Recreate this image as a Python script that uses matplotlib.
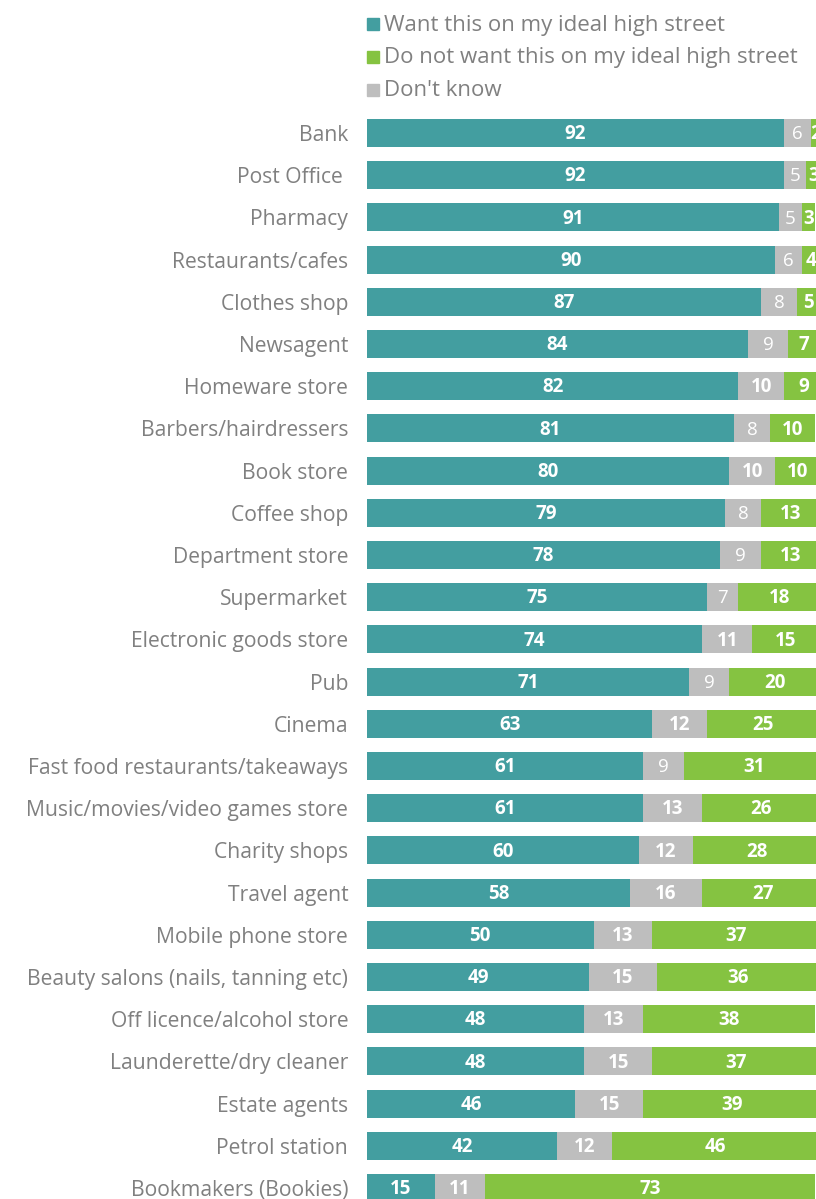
import matplotlib
matplotlib.use("Agg")
import matplotlib.pyplot as plt
from matplotlib.patches import Rectangle

categories = ["Bank", "Post Office ", "Pharmacy", "Restaurants/cafes", "Clothes shop",
              "Newsagent", "Homeware store", "Barbers/hairdressers", "Book store",
              "Coffee shop", "Department store", "Supermarket", "Electronic goods store",
              "Pub", "Cinema", "Fast food restaurants/takeaways",
              "Music/movies/video games store", "Charity shops", "Travel agent",
              "Mobile phone store", "Beauty salons (nails, tanning etc)",
              "Off licence/alcohol store", "Launderette/dry cleaner", "Estate agents",
              "Petrol station", "Bookmakers (Bookies)"]
want = [92, 92, 91, 90, 87, 84, 82, 81, 80, 79, 78, 75, 74, 71, 63, 61, 61, 60, 58, 50, 49, 48, 48, 46, 42, 15]
dont_know = [6, 5, 5, 6, 8, 9, 10, 8, 10, 8, 9, 7, 11, 9, 12, 9, 13, 12, 16, 13, 15, 13, 15, 15, 12, 11]
not_want = [2, 3, 3, 4, 5, 7, 9, 10, 10, 13, 13, 18, 15, 20, 25, 31, 26, 28, 27, 37, 36, 38, 37, 39, 46, 73]
legend_labels = ["Want this on my ideal high street", "Do not want this on my ideal high street", "Don't know"]

TEAL = "#439EA0"
GREEN = "#85C341"
GRAY = "#BEBEBE"
LABEL = "#808080"

plt.rcParams['font.family'] = ['Open Sans', 'DejaVu Sans']

W, H = 816, 1199
fig = plt.figure(figsize=(W / 100, H / 100), dpi=100)
x0 = 367 / W
ax_w = (820 - 367) / W
ax = fig.add_axes([x0, 0, ax_w, 1])

n = len(categories)
y = list(range(n))
row_px = 42.2
top_px = 133
ax.set_ylim((H - top_px) / row_px, -top_px / row_px)
ax.set_xlim(0, 100)

bh = 0.66
lefts2 = [a for a in want]
lefts3 = [a + b for a, b in zip(want, dont_know)]
ax.barh(y, want, height=bh, color=TEAL, edgecolor='none')
ax.barh(y, dont_know, left=lefts2, height=bh, color=GRAY, edgecolor='none')
ax.barh(y, not_want, left=lefts3, height=bh, color=GREEN, edgecolor='none')

for i in range(n):
    ax.text(want[i] / 2, i + 0.03, str(want[i]), ha='center', va='center',
            color='white', fontsize=13.5, fontweight='bold')
    ax.text(want[i] + dont_know[i] / 2, i + 0.03, str(dont_know[i]), ha='center', va='center',
            color='white', fontsize=13.5, fontweight='bold' if dont_know[i] >= 10 else 'normal')
    ax.text(lefts3[i] + not_want[i] / 2, i + 0.03, str(not_want[i]), ha='center', va='center',
            color='white', fontsize=13.5, fontweight='bold')

ax.set_yticks(y)
ax.set_yticklabels(categories, fontsize=15.2, color=LABEL)
ax.tick_params(axis='y', length=0, pad=13.5)
ax.set_xticks([])
for s in ax.spines.values():
    s.set_visible(False)

# legend
leg_colors = [TEAL, GREEN, GRAY]
leg_y = [24, 57, 90]
for c, lab, yy in zip(leg_colors, legend_labels, leg_y):
    fig.add_artist(Rectangle((367 / W, 1 - (yy + 6) / H), 12 / W, 12 / H,
                             transform=fig.transFigure, color=c))
    fig.text(384 / W, 1 - (yy + 1) / H, lab, ha='left', va='center', fontsize=16, color=LABEL)

fig.savefig("out.png", dpi=100)
